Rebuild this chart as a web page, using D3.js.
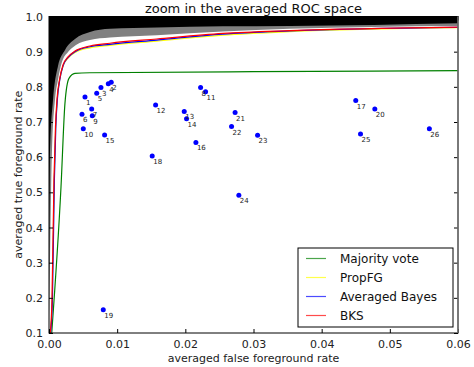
<!DOCTYPE html>
<html>
<head>
<meta charset="utf-8">
<script src="https://cdn.jsdelivr.net/npm/d3@7"></script>
<style>
  body { margin: 0; background: #fff; }
  svg { font-family: "DejaVu Sans", sans-serif; }
</style>
</head>
<body>
<div id="chart"></div>
<script>
// outer band edge (black above it), fpr / tpr
const bandTopFpr = [0, 0.00015, 0.00059, 0.00132, 0.00235, 0.00381, 0.00601, 0.00894, 0.0158, 0.0255, 0.0353, 0.06];
const bandTopTpr = [0.1, 0.621, 0.763, 0.859, 0.905, 0.936, 0.956, 0.965, 0.969, 0.972, 0.973, 0.981];
// inner band edge (grey between the two edges)
const bandLowFpr = [0, 0.00044, 0.00088, 0.00132, 0.00191, 0.00279, 0.00396, 0.00601, 0.00894, 0.0158, 0.0255, 0.0353, 0.06];
const bandLowTpr = [0.1, 0.621, 0.763, 0.82, 0.871, 0.899, 0.919, 0.933, 0.94, 0.947, 0.957, 0.965, 0.973];

// combination curves
const bksFpr = [0.00019, 0.00044, 0.00073, 0.00095, 0.00117, 0.00154, 0.00205, 0.00279, 0.00381, 0.00601, 0.00894, 0.0158, 0.0255, 0.0353, 0.06];
const bksTpr = [0.1, 0.195, 0.536, 0.686, 0.763, 0.82, 0.862, 0.885, 0.902, 0.916, 0.924, 0.936, 0.952, 0.96, 0.97];
const bayesFpr = [0.00024, 0.0005, 0.00079, 0.001, 0.00122, 0.00158, 0.00209, 0.00282, 0.00383, 0.00603, 0.00894, 0.0158, 0.0255, 0.0353, 0.06];
const bayesTpr = [0.1, 0.195, 0.536, 0.686, 0.763, 0.82, 0.861, 0.884, 0.9, 0.914, 0.921, 0.933, 0.95, 0.959, 0.969];
const propFpr = [0.00022, 0.00047, 0.00076, 0.00098, 0.0012, 0.00157, 0.00208, 0.00282, 0.00384, 0.00604, 0.00894, 0.0158, 0.0255, 0.0353, 0.06];
const propTpr = [0.1, 0.195, 0.536, 0.686, 0.763, 0.82, 0.86, 0.882, 0.898, 0.911, 0.918, 0.93, 0.947, 0.957, 0.968];
const majFpr = [0.0004, 0.00176, 0.00234, 0.00293, 0.0038, 0.006, 0.03, 0.06];
const majTpr = [0.1, 0.515, 0.753, 0.824, 0.838, 0.84, 0.843, 0.846];

// single classifiers
const clfNames = ["1","2","3","4","5","6","7","8","9","10","11","12","13","14","15","16","17","18","19","20","21","22","23","24","25","26"];
const clfFpr = [0.00528, 0.00913, 0.00762, 0.0087, 0.007, 0.00484, 0.00626, 0.02224, 0.00635, 0.00503, 0.02297, 0.01564, 0.01984, 0.02018, 0.00816, 0.02155, 0.045, 0.01514, 0.00796, 0.0478, 0.0273, 0.02678, 0.0306, 0.02785, 0.0457, 0.0558];
const clfTpr = [0.771, 0.813, 0.798, 0.809, 0.782, 0.722, 0.737, 0.798, 0.718, 0.681, 0.786, 0.748, 0.73, 0.709, 0.663, 0.642, 0.761, 0.603, 0.166, 0.737, 0.727, 0.687, 0.662, 0.492, 0.666, 0.681];

const xTicks = [0, 0.01, 0.02, 0.03, 0.04, 0.05, 0.06];
const yTicks = [0.1, 0.2, 0.3, 0.4, 0.5, 0.6, 0.7, 0.8, 0.9, 1.0];

const legendNames = ["Majority vote", "PropFG", "Averaged Bayes", "BKS"];
const legendColors = ["#008000", "#ffff00", "#0000ff", "#ff0000"];

const W = 474, H = 367;
const margin = { top: 16.5, right: 16, bottom: 34, left: 49 };
const width = W - margin.left - margin.right;
const height = H - margin.top - margin.bottom;

const svg = d3.select("#chart").append("svg")
  .attr("width", W)
  .attr("height", H);

const g = svg.append("g")
  .attr("transform", "translate(" + margin.left + "," + margin.top + ")");

const x = d3.scaleLinear().domain([0, 0.06]).range([0, width]);
const y = d3.scaleLinear().domain([0.1, 1.0]).range([height, 0]);

g.append("clipPath").attr("id", "clip")
  .append("rect").attr("width", width).attr("height", height);

const plot = g.append("g").attr("clip-path", "url(#clip)");

const zip = (a, b) => a.map((v, i) => [v, b[i]]);
const smooth = d3.line().x(d => x(d[0])).y(d => y(d[1])).curve(d3.curveMonotoneX);

// region above an edge, closed along the top of the axes
function above(pts) {
  return smooth(pts) + "L" + x(0.06) + "," + y(1.0) + "L" + x(0) + "," + y(1.0) + "Z";
}
// grey first (above inner edge), black on top of it (above outer edge)
plot.append("path")
  .attr("d", above(zip(bandLowFpr, bandLowTpr)))
  .attr("fill", "#808080");
plot.append("path")
  .attr("d", above(zip(bandTopFpr, bandTopTpr)))
  .attr("fill", "#000");

const curves = [
  { pts: zip(majFpr, majTpr), color: legendColors[0] },
  { pts: zip(propFpr, propTpr), color: legendColors[1] },
  { pts: zip(bayesFpr, bayesTpr), color: legendColors[2] },
  { pts: zip(bksFpr, bksTpr), color: legendColors[3] }
];
curves.forEach(c => {
  plot.append("path")
    .datum(c.pts)
    .attr("d", smooth)
    .attr("fill", "none")
    .attr("stroke", c.color)
    .attr("stroke-width", 1.2);
});

// dots + labels
const pts = clfNames.map((n, i) => ({ n: n, fx: clfFpr[i], ty: clfTpr[i] }));
plot.selectAll(".dot")
  .data(pts)
  .enter().append("circle")
  .attr("class", "dot")
  .attr("cx", d => x(d.fx))
  .attr("cy", d => y(d.ty))
  .attr("r", 2.5)
  .attr("fill", "#0000ff");

g.selectAll(".lbl")
  .data(pts)
  .enter().append("text")
  .attr("class", "lbl")
  .attr("x", d => x(d.fx) + 1)
  .attr("y", d => y(d.ty) + 8)
  .attr("font-size", 7)
  .attr("fill", "#222")
  .text(d => d.n);

// axes, ticks pointing inward
const xAxis = g.append("g")
  .attr("transform", "translate(0," + height + ")")
  .call(d3.axisBottom(x).tickValues(xTicks).tickFormat(d3.format(".2f")).tickSizeInner(-4).tickSizeOuter(0).tickPadding(7));
const xTop = g.append("g")
  .call(d3.axisTop(x).tickValues(xTicks).tickFormat("").tickSizeInner(-4).tickSizeOuter(0));
const yAxis = g.append("g")
  .call(d3.axisLeft(y).tickValues(yTicks).tickFormat(d3.format(".1f")).tickSizeInner(-4).tickSizeOuter(0).tickPadding(6));
const yRight = g.append("g")
  .attr("transform", "translate(" + width + ",0)")
  .call(d3.axisRight(y).tickValues(yTicks).tickFormat("").tickSizeInner(-4).tickSizeOuter(0));

[xAxis, xTop, yAxis, yRight].forEach(a => {
  a.select(".domain").remove();
  a.selectAll("text").attr("font-size", 11).attr("fill", "#222").attr("font-family", "DejaVu Sans");
  a.selectAll("line").attr("stroke", "#000");
});

// frame
g.append("rect")
  .attr("width", width).attr("height", height)
  .attr("fill", "none").attr("stroke", "#000").attr("stroke-width", 1);
g.append("line")
  .attr("x1", width).attr("x2", width).attr("y1", 0).attr("y2", height)
  .attr("stroke", "#777").attr("stroke-width", 1.5);

// title and axis labels
svg.append("text")
  .attr("x", margin.left + width / 2).attr("y", 13)
  .attr("text-anchor", "middle").attr("font-size", 13).attr("fill", "#111")
  .text("zoom in the averaged ROC space");
svg.append("text")
  .attr("x", margin.left + width / 2).attr("y", 362)
  .attr("text-anchor", "middle").attr("font-size", 11).attr("fill", "#222")
  .text("averaged false foreground rate");
svg.append("text")
  .attr("transform", "translate(22," + (margin.top + height / 2) + ") rotate(-90)")
  .attr("text-anchor", "middle").attr("font-size", 11).attr("fill", "#222")
  .text("averaged true foreground rate");

// legend
const lg = svg.append("g").attr("transform", "translate(298,248)");
lg.append("rect")
  .attr("width", 155).attr("height", 79)
  .attr("fill", "#fff").attr("stroke", "#000").attr("stroke-width", 1);
legendNames.forEach((name, i) => {
  const cy = 10.5 + i * 19;
  lg.append("line")
    .attr("x1", 8).attr("x2", 28).attr("y1", cy).attr("y2", cy)
    .attr("stroke", legendColors[i]).attr("stroke-width", 1.2).attr("opacity", 0.7);
  lg.append("text")
    .attr("x", 42).attr("y", cy + 4.5)
    .attr("font-size", 12).attr("fill", "#111")
    .text(name);
});
</script>
</body>
</html>
